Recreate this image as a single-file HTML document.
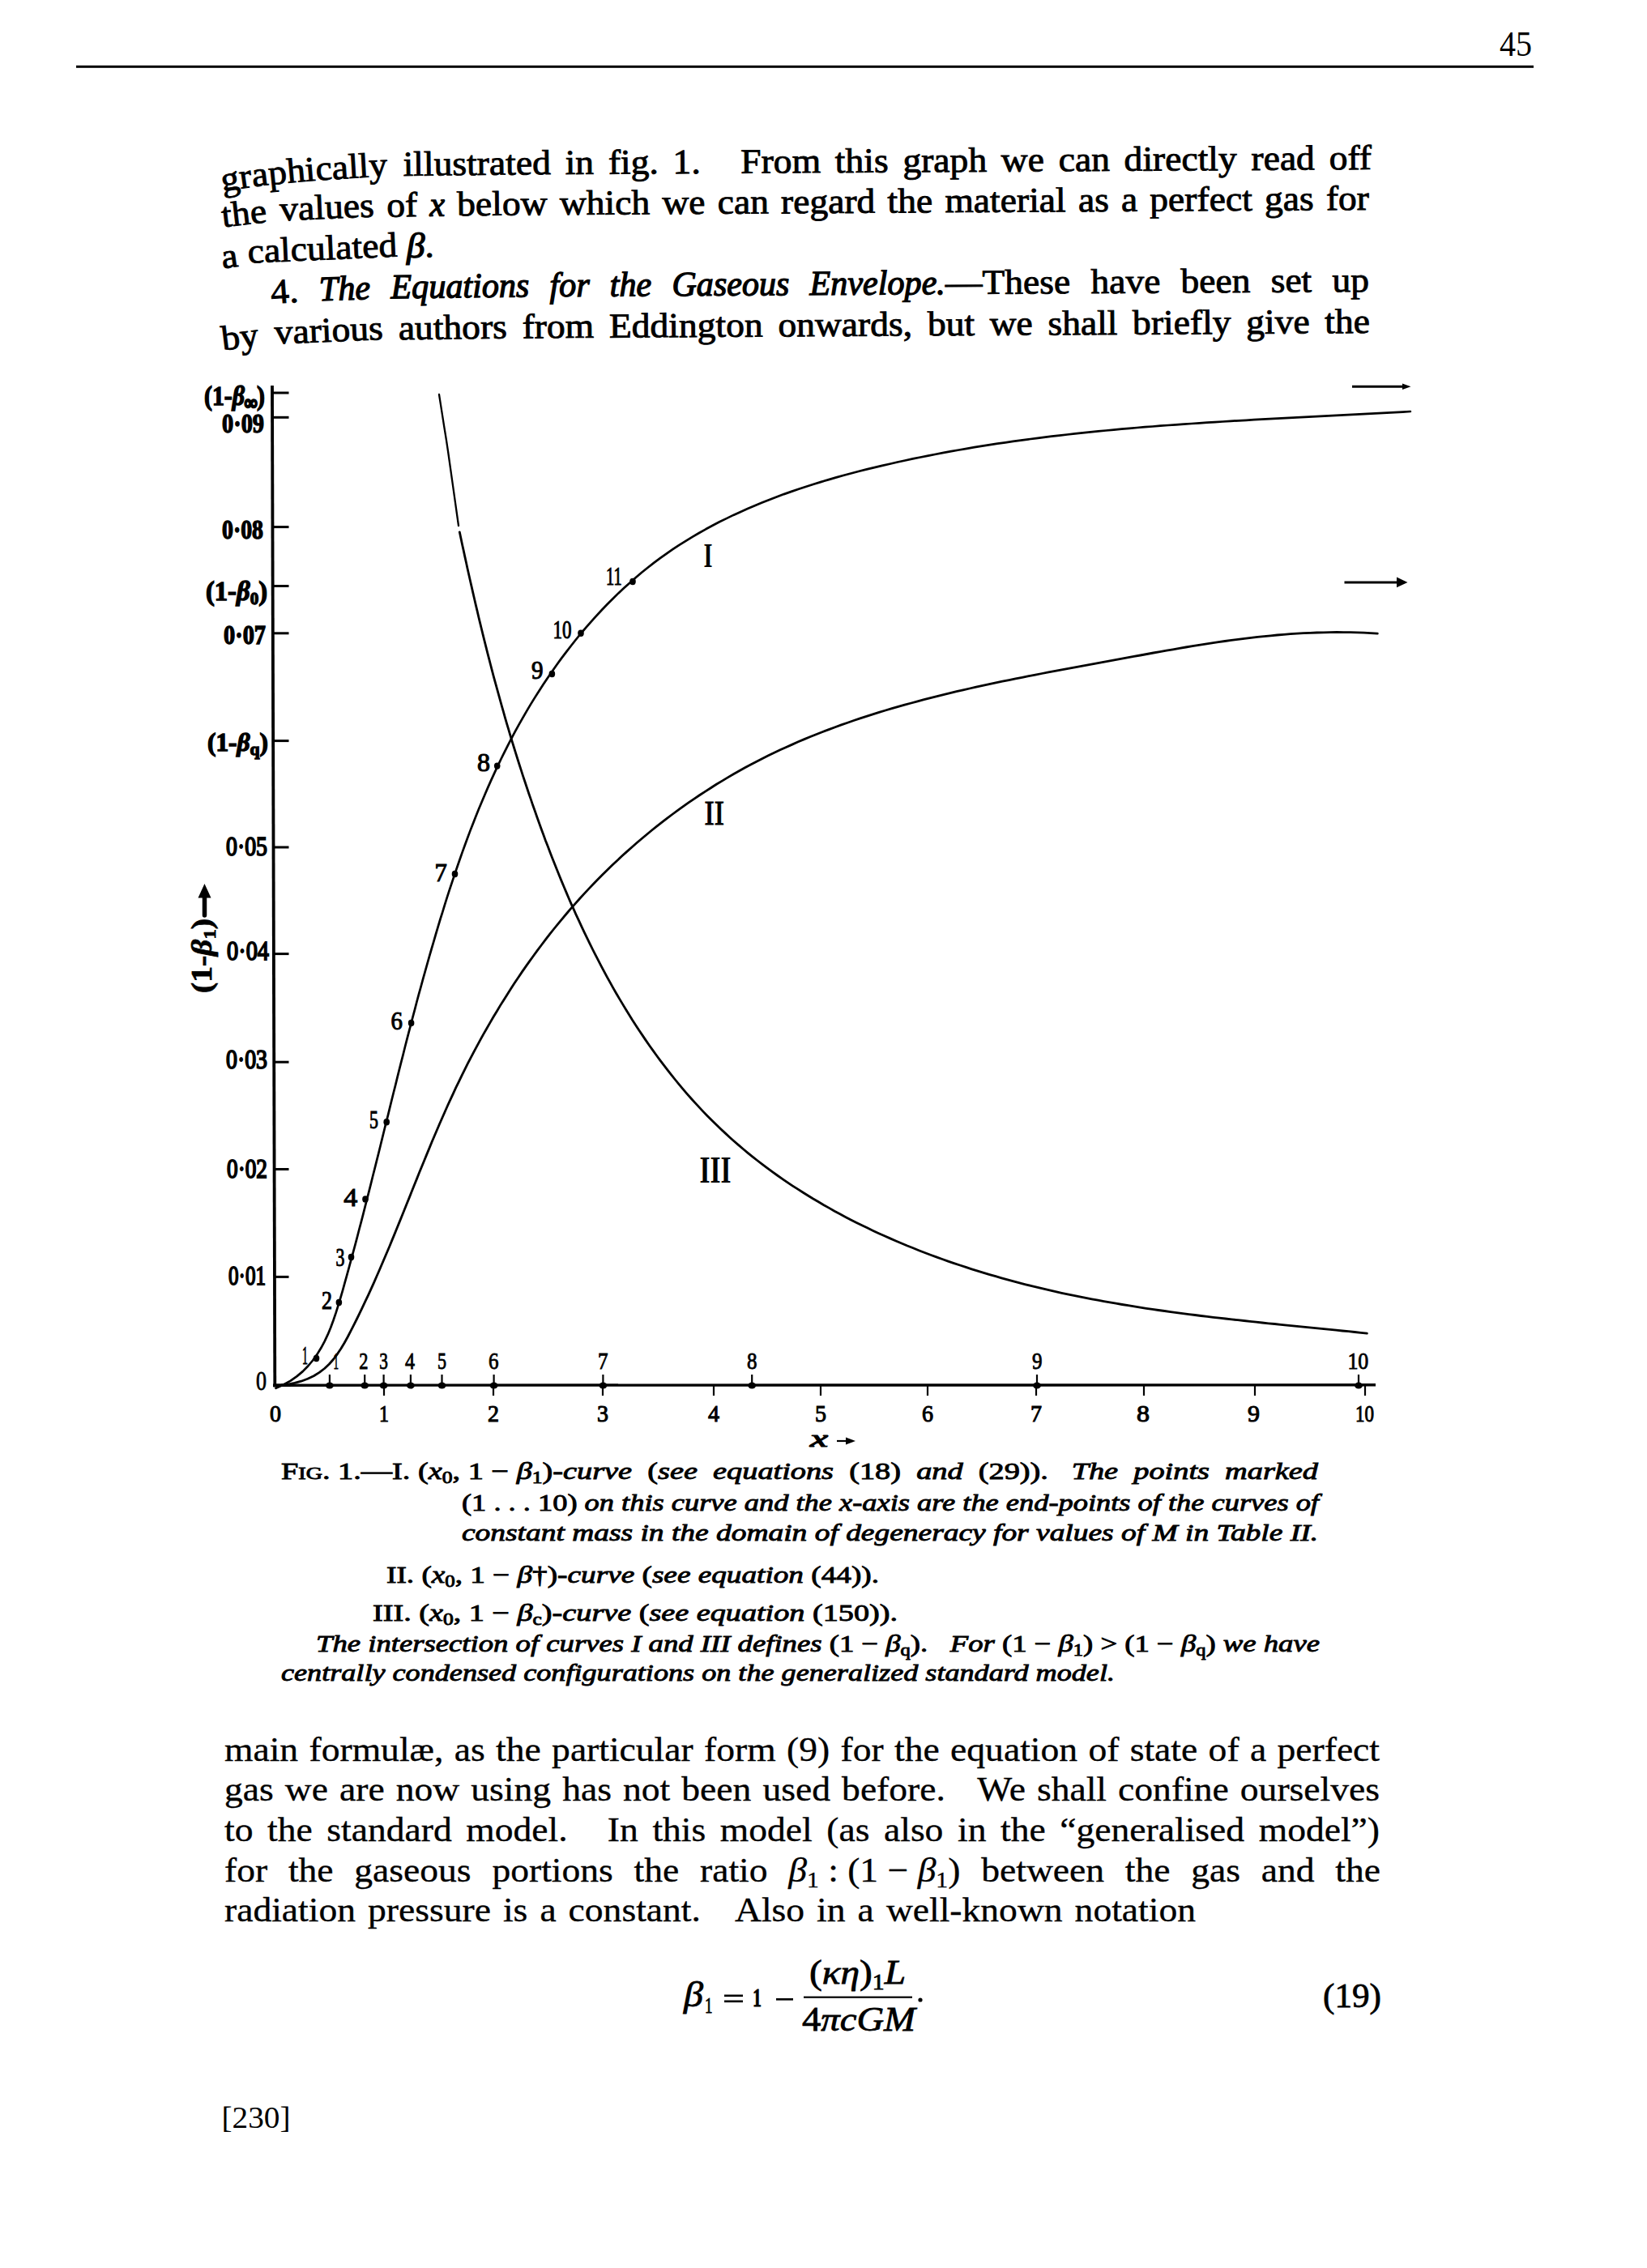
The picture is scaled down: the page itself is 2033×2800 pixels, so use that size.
<!DOCTYPE html>
<html><head><meta charset="utf-8"><title>Page 45</title>
<style>
html,body{margin:0;padding:0;background:#fff;}
body{width:2033px;height:2800px;overflow:hidden;}
svg{display:block;}
text{fill:#000;white-space:pre;}
.ut,.lt{font-family:'Liberation Serif', serif;font-size:43px;}
.ut{stroke:#000;stroke-width:0.9px;}
.ut tspan[font-style=italic]{stroke-width:1.3px;}
.lt{stroke:#000;stroke-width:0.35px;}
.eq{stroke:#000;stroke-width:0.8px;}
.cap{stroke:#000;stroke-width:0.5px;}
.cap{stroke-width:0.9px;}
</style></head><body>
<svg width="2033" height="2800" viewBox="0 0 2033 2800"><defs><path id="p_gr" d="M 275.0 236.5 Q 345.0 223 510.0 216"/></defs><text x="1851" y="69" font-family="'Liberation Serif', serif" font-size="44" textLength="40" lengthAdjust="spacingAndGlyphs">45</text><rect x="94" y="80.8" width="1799" height="3" fill="#000"/><text class="ut"><textPath href="#p_gr" textLength="205.0" lengthAdjust="spacingAndGlyphs">graphically</textPath></text><text class="ut" x="497.7" y="217.0" transform="rotate(-0.61 497.7 217.0)" textLength="182.3" lengthAdjust="spacingAndGlyphs">illustrated</text><text class="ut" x="697.7" y="215.1" transform="rotate(-0.41 697.7 215.1)" textLength="35.5" lengthAdjust="spacingAndGlyphs">in</text><text class="ut" x="750.9" y="214.7" transform="rotate(-0.37 750.9 214.7)" textLength="62.0" lengthAdjust="spacingAndGlyphs">fig.</text><text class="ut" x="830.6" y="214.2" transform="rotate(-0.36 830.6 214.2)" textLength="34.2" lengthAdjust="spacingAndGlyphs">1.</text><text class="ut" x="914.3" y="213.7" transform="rotate(-0.35 914.3 213.7)" textLength="98.8" lengthAdjust="spacingAndGlyphs">From</text><text class="ut" x="1030.8" y="213.0" transform="rotate(-0.35 1030.8 213.0)" textLength="65.9" lengthAdjust="spacingAndGlyphs">this</text><text class="ut" x="1114.4" y="212.5" transform="rotate(-0.34 1114.4 212.5)" textLength="103.8" lengthAdjust="spacingAndGlyphs">graph</text><text class="ut" x="1235.8" y="211.7" transform="rotate(-0.34 1235.8 211.7)" textLength="53.1" lengthAdjust="spacingAndGlyphs">we</text><text class="ut" x="1306.7" y="211.3" transform="rotate(-0.34 1306.7 211.3)" textLength="63.3" lengthAdjust="spacingAndGlyphs">can</text><text class="ut" x="1387.6" y="210.8" transform="rotate(-0.34 1387.6 210.8)" textLength="139.2" lengthAdjust="spacingAndGlyphs">directly</text><text class="ut" x="1544.5" y="209.9" transform="rotate(-0.34 1544.5 209.9)" textLength="78.4" lengthAdjust="spacingAndGlyphs">read</text><text class="ut" x="1640.7" y="209.3" transform="rotate(-0.34 1640.7 209.3)" textLength="52.3" lengthAdjust="spacingAndGlyphs">off</text><text class="ut" x="275.0" y="280.5" transform="rotate(-6.62 275.0 280.5)" textLength="55.7" lengthAdjust="spacingAndGlyphs">the</text><text class="ut" x="345.8" y="272.4" transform="rotate(-2.39 345.8 272.4)" textLength="116.5" lengthAdjust="spacingAndGlyphs">values</text><text class="ut" x="477.4" y="267.7" transform="rotate(-1.08 477.4 267.7)" textLength="38.0" lengthAdjust="spacingAndGlyphs">of</text><text class="ut" x="530.5" y="266.7" transform="rotate(-0.80 530.5 266.7)" textLength="18.7" lengthAdjust="spacingAndGlyphs"><tspan font-style='italic'>x</tspan></text><text class="ut" x="564.3" y="266.2" transform="rotate(-0.53 564.3 266.2)" textLength="111.4" lengthAdjust="spacingAndGlyphs">below</text><text class="ut" x="690.9" y="265.1" transform="rotate(-0.39 690.9 265.1)" textLength="111.4" lengthAdjust="spacingAndGlyphs">which</text><text class="ut" x="817.4" y="264.3" transform="rotate(-0.36 817.4 264.3)" textLength="53.1" lengthAdjust="spacingAndGlyphs">we</text><text class="ut" x="885.7" y="263.8" transform="rotate(-0.35 885.7 263.8)" textLength="63.3" lengthAdjust="spacingAndGlyphs">can</text><text class="ut" x="964.0" y="263.4" transform="rotate(-0.35 964.0 263.4)" textLength="116.4" lengthAdjust="spacingAndGlyphs">regard</text><text class="ut" x="1095.6" y="262.6" transform="rotate(-0.34 1095.6 262.6)" textLength="55.7" lengthAdjust="spacingAndGlyphs">the</text><text class="ut" x="1166.4" y="262.1" transform="rotate(-0.34 1166.4 262.1)" textLength="149.3" lengthAdjust="spacingAndGlyphs">material</text><text class="ut" x="1330.9" y="261.2" transform="rotate(-0.34 1330.9 261.2)" textLength="38.0" lengthAdjust="spacingAndGlyphs">as</text><text class="ut" x="1384.0" y="260.8" transform="rotate(-0.34 1384.0 260.8)" textLength="20.2" lengthAdjust="spacingAndGlyphs">a</text><text class="ut" x="1419.3" y="260.6" transform="rotate(-0.34 1419.3 260.6)" textLength="126.5" lengthAdjust="spacingAndGlyphs">perfect</text><text class="ut" x="1561.0" y="259.8" transform="rotate(-0.34 1561.0 259.8)" textLength="60.8" lengthAdjust="spacingAndGlyphs">gas</text><text class="ut" x="1636.9" y="259.3" transform="rotate(-0.34 1636.9 259.3)" textLength="53.1" lengthAdjust="spacingAndGlyphs">for</text><text class="ut" x="275.0" y="331.4" transform="rotate(-7.97 275.0 331.4)" textLength="20.2" lengthAdjust="spacingAndGlyphs">a</text><text class="ut" x="306.2" y="324.7" transform="rotate(-2.52 306.2 324.7)" textLength="184.7" lengthAdjust="spacingAndGlyphs">calculated</text><text class="ut" x="501.9" y="317.7" transform="rotate(-0.92 501.9 317.7)" textLength="34.1" lengthAdjust="spacingAndGlyphs"><tspan font-style='italic'>β</tspan>.</text><text class="ut" x="335.0" y="375.0" transform="rotate(-3.99 335.0 375.0)" textLength="34.2" lengthAdjust="spacingAndGlyphs">4.</text><text class="ut" x="394.3" y="371.2" transform="rotate(-1.95 394.3 371.2)" textLength="63.2" lengthAdjust="spacingAndGlyphs"><tspan font-style='italic'>The</tspan></text><text class="ut" x="482.6" y="368.3" transform="rotate(-0.68 482.6 368.3)" textLength="170.9" lengthAdjust="spacingAndGlyphs"><tspan font-style='italic'>Equations</tspan></text><text class="ut" x="678.6" y="366.2" transform="rotate(-0.42 678.6 366.2)" textLength="49.2" lengthAdjust="spacingAndGlyphs"><tspan font-style='italic'>for</tspan></text><text class="ut" x="752.8" y="365.7" transform="rotate(-0.38 752.8 365.7)" textLength="51.5" lengthAdjust="spacingAndGlyphs"><tspan font-style='italic'>the</tspan></text><text class="ut" x="829.4" y="365.2" transform="rotate(-0.35 829.4 365.2)" textLength="145.1" lengthAdjust="spacingAndGlyphs"><tspan font-style='italic'>Gaseous</tspan></text><text class="ut" x="999.6" y="364.1" transform="rotate(-0.34 999.6 364.1)" textLength="167.3" lengthAdjust="spacingAndGlyphs"><tspan font-style='italic'>Envelope.</tspan></text><text class="ut" x="1166.9" y="363.1" transform="rotate(-0.34 1166.9 363.1)" textLength="154.4" lengthAdjust="spacingAndGlyphs">—These</text><text class="ut" x="1346.4" y="362.1" transform="rotate(-0.34 1346.4 362.1)" textLength="86.0" lengthAdjust="spacingAndGlyphs">have</text><text class="ut" x="1457.6" y="361.4" transform="rotate(-0.34 1457.6 361.4)" textLength="86.0" lengthAdjust="spacingAndGlyphs">been</text><text class="ut" x="1568.7" y="360.7" transform="rotate(-0.34 1568.7 360.7)" textLength="50.6" lengthAdjust="spacingAndGlyphs">set</text><text class="ut" x="1644.4" y="360.3" transform="rotate(-0.34 1644.4 360.3)" textLength="45.6" lengthAdjust="spacingAndGlyphs">up</text><text class="ut" x="275.0" y="432.6" transform="rotate(-6.98 275.0 432.6)" textLength="45.6" lengthAdjust="spacingAndGlyphs">by</text><text class="ut" x="339.2" y="424.6" transform="rotate(-2.34 339.2 424.6)" textLength="134.2" lengthAdjust="spacingAndGlyphs">various</text><text class="ut" x="491.9" y="419.2" transform="rotate(-0.71 491.9 419.2)" textLength="134.2" lengthAdjust="spacingAndGlyphs">authors</text><text class="ut" x="644.7" y="417.5" transform="rotate(-0.43 644.7 417.5)" textLength="88.6" lengthAdjust="spacingAndGlyphs">from</text><text class="ut" x="751.9" y="416.7" transform="rotate(-0.36 751.9 416.7)" textLength="189.9" lengthAdjust="spacingAndGlyphs">Eddington</text><text class="ut" x="960.4" y="415.4" transform="rotate(-0.35 960.4 415.4)" textLength="165.8" lengthAdjust="spacingAndGlyphs">onwards,</text><text class="ut" x="1144.9" y="414.3" transform="rotate(-0.34 1144.9 414.3)" textLength="58.3" lengthAdjust="spacingAndGlyphs">but</text><text class="ut" x="1221.7" y="413.8" transform="rotate(-0.34 1221.7 413.8)" textLength="53.1" lengthAdjust="spacingAndGlyphs">we</text><text class="ut" x="1293.4" y="413.4" transform="rotate(-0.34 1293.4 413.4)" textLength="86.1" lengthAdjust="spacingAndGlyphs">shall</text><text class="ut" x="1398.1" y="412.8" transform="rotate(-0.34 1398.1 412.8)" textLength="121.5" lengthAdjust="spacingAndGlyphs">briefly</text><text class="ut" x="1538.2" y="411.9" transform="rotate(-0.34 1538.2 411.9)" textLength="78.5" lengthAdjust="spacingAndGlyphs">give</text><text class="ut" x="1635.3" y="411.3" transform="rotate(-0.34 1635.3 411.3)" textLength="55.7" lengthAdjust="spacingAndGlyphs">the</text><text class="lt" x="277.0" y="2173.5" textLength="91.1" lengthAdjust="spacingAndGlyphs">main</text><text class="lt" x="381.5" y="2173.5" textLength="165.9" lengthAdjust="spacingAndGlyphs">formulæ,</text><text class="lt" x="560.7" y="2173.5" textLength="38.0" lengthAdjust="spacingAndGlyphs">as</text><text class="lt" x="612.0" y="2173.5" textLength="55.7" lengthAdjust="spacingAndGlyphs">the</text><text class="lt" x="681.1" y="2173.5" textLength="174.6" lengthAdjust="spacingAndGlyphs">particular</text><text class="lt" x="869.1" y="2173.5" textLength="88.6" lengthAdjust="spacingAndGlyphs">form</text><text class="lt" x="971.0" y="2173.5" textLength="53.1" lengthAdjust="spacingAndGlyphs">(9)</text><text class="lt" x="1037.5" y="2173.5" textLength="53.1" lengthAdjust="spacingAndGlyphs">for</text><text class="lt" x="1104.0" y="2173.5" textLength="55.7" lengthAdjust="spacingAndGlyphs">the</text><text class="lt" x="1173.1" y="2173.5" textLength="157.0" lengthAdjust="spacingAndGlyphs">equation</text><text class="lt" x="1343.4" y="2173.5" textLength="38.0" lengthAdjust="spacingAndGlyphs">of</text><text class="lt" x="1394.7" y="2173.5" textLength="83.5" lengthAdjust="spacingAndGlyphs">state</text><text class="lt" x="1491.6" y="2173.5" textLength="38.0" lengthAdjust="spacingAndGlyphs">of</text><text class="lt" x="1542.9" y="2173.5" textLength="20.2" lengthAdjust="spacingAndGlyphs">a</text><text class="lt" x="1576.5" y="2173.5" textLength="126.5" lengthAdjust="spacingAndGlyphs">perfect</text><text class="lt" x="277.0" y="2223" textLength="60.8" lengthAdjust="spacingAndGlyphs">gas</text><text class="lt" x="351.8" y="2223" textLength="53.1" lengthAdjust="spacingAndGlyphs">we</text><text class="lt" x="419.1" y="2223" textLength="55.7" lengthAdjust="spacingAndGlyphs">are</text><text class="lt" x="488.8" y="2223" textLength="78.5" lengthAdjust="spacingAndGlyphs">now</text><text class="lt" x="581.3" y="2223" textLength="98.8" lengthAdjust="spacingAndGlyphs">using</text><text class="lt" x="694.2" y="2223" textLength="60.8" lengthAdjust="spacingAndGlyphs">has</text><text class="lt" x="769.0" y="2223" textLength="58.3" lengthAdjust="spacingAndGlyphs">not</text><text class="lt" x="841.3" y="2223" textLength="86.0" lengthAdjust="spacingAndGlyphs">been</text><text class="lt" x="941.5" y="2223" textLength="83.6" lengthAdjust="spacingAndGlyphs">used</text><text class="lt" x="1039.1" y="2223" textLength="127.8" lengthAdjust="spacingAndGlyphs">before.</text><text class="lt" x="1206.3" y="2223" textLength="59.6" lengthAdjust="spacingAndGlyphs">We</text><text class="lt" x="1279.9" y="2223" textLength="86.1" lengthAdjust="spacingAndGlyphs">shall</text><text class="lt" x="1380.1" y="2223" textLength="136.7" lengthAdjust="spacingAndGlyphs">confine</text><text class="lt" x="1530.8" y="2223" textLength="172.2" lengthAdjust="spacingAndGlyphs">ourselves</text><text class="lt" x="277.0" y="2272.5" textLength="35.5" lengthAdjust="spacingAndGlyphs">to</text><text class="lt" x="330.0" y="2272.5" textLength="55.7" lengthAdjust="spacingAndGlyphs">the</text><text class="lt" x="403.3" y="2272.5" textLength="154.4" lengthAdjust="spacingAndGlyphs">standard</text><text class="lt" x="575.3" y="2272.5" textLength="125.3" lengthAdjust="spacingAndGlyphs">model.</text><text class="lt" x="749.8" y="2272.5" textLength="38.0" lengthAdjust="spacingAndGlyphs">In</text><text class="lt" x="805.4" y="2272.5" textLength="65.9" lengthAdjust="spacingAndGlyphs">this</text><text class="lt" x="888.8" y="2272.5" textLength="113.9" lengthAdjust="spacingAndGlyphs">model</text><text class="lt" x="1020.3" y="2272.5" textLength="53.1" lengthAdjust="spacingAndGlyphs">(as</text><text class="lt" x="1091.0" y="2272.5" textLength="73.4" lengthAdjust="spacingAndGlyphs">also</text><text class="lt" x="1182.0" y="2272.5" textLength="35.5" lengthAdjust="spacingAndGlyphs">in</text><text class="lt" x="1235.0" y="2272.5" textLength="55.7" lengthAdjust="spacingAndGlyphs">the</text><text class="lt" x="1308.3" y="2272.5" textLength="227.8" lengthAdjust="spacingAndGlyphs">“generalised</text><text class="lt" x="1553.7" y="2272.5" textLength="149.3" lengthAdjust="spacingAndGlyphs">model”)</text><text class="lt" x="277.0" y="2322.5" textLength="53.1" lengthAdjust="spacingAndGlyphs">for</text><text class="lt" x="355.9" y="2322.5" textLength="55.7" lengthAdjust="spacingAndGlyphs">the</text><text class="lt" x="437.3" y="2322.5" textLength="144.3" lengthAdjust="spacingAndGlyphs">gaseous</text><text class="lt" x="607.4" y="2322.5" textLength="149.4" lengthAdjust="spacingAndGlyphs">portions</text><text class="lt" x="782.5" y="2322.5" textLength="55.7" lengthAdjust="spacingAndGlyphs">the</text><text class="lt" x="864.0" y="2322.5" textLength="83.5" lengthAdjust="spacingAndGlyphs">ratio</text><text class="lt" x="973.2" y="2322.5" textLength="212.2" lengthAdjust="spacingAndGlyphs"><tspan font-style='italic'>β</tspan><tspan font-size='28' baseline-shift='-7'>1</tspan> : (1 − <tspan font-style='italic'>β</tspan><tspan font-size='28' baseline-shift='-7'>1</tspan>)</text><text class="lt" x="1211.2" y="2322.5" textLength="151.9" lengthAdjust="spacingAndGlyphs">between</text><text class="lt" x="1388.8" y="2322.5" textLength="55.7" lengthAdjust="spacingAndGlyphs">the</text><text class="lt" x="1470.2" y="2322.5" textLength="60.8" lengthAdjust="spacingAndGlyphs">gas</text><text class="lt" x="1556.7" y="2322.5" textLength="65.8" lengthAdjust="spacingAndGlyphs">and</text><text class="lt" x="1648.3" y="2322.5" textLength="55.7" lengthAdjust="spacingAndGlyphs">the</text><text class="lt" x="277.0" y="2372" textLength="162.0" lengthAdjust="spacingAndGlyphs">radiation</text><text class="lt" x="454.0" y="2372" textLength="151.9" lengthAdjust="spacingAndGlyphs">pressure</text><text class="lt" x="620.9" y="2372" textLength="30.4" lengthAdjust="spacingAndGlyphs">is</text><text class="lt" x="666.4" y="2372" textLength="20.2" lengthAdjust="spacingAndGlyphs">a</text><text class="lt" x="701.6" y="2372" textLength="163.3" lengthAdjust="spacingAndGlyphs">constant.</text><text class="lt" x="907.0" y="2372" textLength="86.1" lengthAdjust="spacingAndGlyphs">Also</text><text class="lt" x="1008.1" y="2372" textLength="35.5" lengthAdjust="spacingAndGlyphs">in</text><text class="lt" x="1058.6" y="2372" textLength="20.2" lengthAdjust="spacingAndGlyphs">a</text><text class="lt" x="1093.9" y="2372" textLength="217.7" lengthAdjust="spacingAndGlyphs">well-known</text><text class="lt" x="1326.6" y="2372" textLength="149.4" lengthAdjust="spacingAndGlyphs">notation</text><path d="M 336 476 L 339.3 1712.5" stroke="#000" stroke-width="3.8" fill="none"/><path d="M 337 1710.2 L 1698 1709.8" stroke="#000" stroke-width="3.4" fill="none"/><path d="M 336.0 485 L 356.5 485" stroke="#000" stroke-width="3" fill="none"/><path d="M 336.1 515.3 L 356.5 515.3" stroke="#000" stroke-width="3" fill="none"/><path d="M 336.5 650.6 L 356.5 650.6" stroke="#000" stroke-width="3" fill="none"/><path d="M 336.7 723.5 L 356.5 723.5" stroke="#000" stroke-width="3" fill="none"/><path d="M 336.8 781.8 L 356.5 781.8" stroke="#000" stroke-width="3" fill="none"/><path d="M 337.2 914.6 L 356.5 914.6" stroke="#000" stroke-width="3" fill="none"/><path d="M 337.5 1046 L 356.5 1046" stroke="#000" stroke-width="3" fill="none"/><path d="M 337.9 1177.6 L 356.5 1177.6" stroke="#000" stroke-width="3" fill="none"/><path d="M 338.2 1311.2 L 356.5 1311.2" stroke="#000" stroke-width="3" fill="none"/><path d="M 338.6 1443.5 L 356.5 1443.5" stroke="#000" stroke-width="3" fill="none"/><path d="M 338.9 1576.4 L 356.5 1576.4" stroke="#000" stroke-width="3" fill="none"/><text x="252" y="500" font-family="'Liberation Serif', serif" font-size="34" font-weight="bold" stroke="#000" stroke-width="1.4" textLength="75" lengthAdjust="spacingAndGlyphs">(1-<tspan font-style='italic'>β</tspan><tspan font-size='24' baseline-shift='-5' stroke-width='3'>∞</tspan>)</text><text x="274" y="534" font-family="'Liberation Serif', serif" font-size="34" font-weight="bold" stroke="#000" stroke-width="1.4" textLength="52" lengthAdjust="spacingAndGlyphs">0·09</text><text x="274" y="665" font-family="'Liberation Serif', serif" font-size="34" font-weight="bold" stroke="#000" stroke-width="1.4" textLength="51" lengthAdjust="spacingAndGlyphs">0·08</text><text x="254" y="741" font-family="'Liberation Serif', serif" font-size="34" font-weight="bold" stroke="#000" stroke-width="1.4" textLength="76" lengthAdjust="spacingAndGlyphs">(1-<tspan font-style='italic'>β</tspan><tspan font-size='22' baseline-shift='-5'>0</tspan>)</text><text x="276" y="795" font-family="'Liberation Serif', serif" font-size="34" font-weight="bold" stroke="#000" stroke-width="1.4" textLength="52" lengthAdjust="spacingAndGlyphs">0·07</text><text x="256" y="927" font-family="'Liberation Serif', serif" font-size="32" font-weight="bold" stroke="#000" stroke-width="1.4" textLength="75" lengthAdjust="spacingAndGlyphs">(1-<tspan font-style='italic'>β</tspan><tspan font-size='22' baseline-shift='-5'>q</tspan>)</text><text x="279" y="1056" font-family="'Liberation Serif', serif" font-size="33" font-weight="normal" stroke="#000" stroke-width="1.8" textLength="51" lengthAdjust="spacingAndGlyphs">0·05</text><text x="280" y="1185" font-family="'Liberation Serif', serif" font-size="33" font-weight="normal" stroke="#000" stroke-width="1.8" textLength="52" lengthAdjust="spacingAndGlyphs">0·04</text><text x="279" y="1319" font-family="'Liberation Serif', serif" font-size="33" font-weight="normal" stroke="#000" stroke-width="1.8" textLength="51" lengthAdjust="spacingAndGlyphs">0·03</text><text x="280" y="1453.5" font-family="'Liberation Serif', serif" font-size="33" font-weight="normal" stroke="#000" stroke-width="1.8" textLength="50" lengthAdjust="spacingAndGlyphs">0·02</text><text x="282" y="1586" font-family="'Liberation Serif', serif" font-size="33" font-weight="normal" stroke="#000" stroke-width="1.8" textLength="46" lengthAdjust="spacingAndGlyphs">0·01</text><text x="316" y="1716" font-family="'Liberation Serif', serif" font-size="33" font-weight="normal" stroke="#000" stroke-width="0.8" textLength="13" lengthAdjust="spacingAndGlyphs">0</text><text transform="translate(261,1226) rotate(-90)" font-family="'Liberation Serif', serif" font-size="35" font-weight="bold" stroke="#000" stroke-width="0.8" textLength="92" lengthAdjust="spacingAndGlyphs">(1-<tspan font-style="italic">β</tspan><tspan font-size="22" baseline-shift="-5">1</tspan>)</text><path d="M 252.5 1130 L 252.5 1104" stroke="#000" stroke-width="5.5" stroke-linecap="round"/><path d="M 244.5 1108.5 L 252.5 1091 L 260.5 1108.5 Z" fill="#000"/><path d="M 474 1710 L 474 1723" stroke="#000" stroke-width="2.2" fill="none"/><path d="M 609 1710 L 609 1723" stroke="#000" stroke-width="2.2" fill="none"/><path d="M 744 1710 L 744 1723" stroke="#000" stroke-width="2.2" fill="none"/><path d="M 881 1710 L 881 1723" stroke="#000" stroke-width="2.2" fill="none"/><path d="M 1013 1710 L 1013 1723" stroke="#000" stroke-width="2.2" fill="none"/><path d="M 1145 1710 L 1145 1723" stroke="#000" stroke-width="2.2" fill="none"/><path d="M 1279 1710 L 1279 1723" stroke="#000" stroke-width="2.2" fill="none"/><path d="M 1412 1710 L 1412 1723" stroke="#000" stroke-width="2.2" fill="none"/><path d="M 1549 1710 L 1549 1723" stroke="#000" stroke-width="2.2" fill="none"/><path d="M 1685 1710 L 1685 1723" stroke="#000" stroke-width="2.2" fill="none"/><text x="333" y="1755" font-family="'Liberation Serif', serif" font-size="30" stroke="#000" stroke-width="1.1" textLength="14" lengthAdjust="spacingAndGlyphs">0</text><text x="468" y="1755" font-family="'Liberation Serif', serif" font-size="30" stroke="#000" stroke-width="1.1" textLength="12" lengthAdjust="spacingAndGlyphs">1</text><text x="602" y="1755" font-family="'Liberation Serif', serif" font-size="30" stroke="#000" stroke-width="1.1" textLength="14" lengthAdjust="spacingAndGlyphs">2</text><text x="737" y="1755" font-family="'Liberation Serif', serif" font-size="30" stroke="#000" stroke-width="1.1" textLength="14" lengthAdjust="spacingAndGlyphs">3</text><text x="874" y="1755" font-family="'Liberation Serif', serif" font-size="30" stroke="#000" stroke-width="1.1" textLength="14" lengthAdjust="spacingAndGlyphs">4</text><text x="1006" y="1755" font-family="'Liberation Serif', serif" font-size="30" stroke="#000" stroke-width="1.1" textLength="14" lengthAdjust="spacingAndGlyphs">5</text><text x="1138" y="1755" font-family="'Liberation Serif', serif" font-size="30" stroke="#000" stroke-width="1.1" textLength="14" lengthAdjust="spacingAndGlyphs">6</text><text x="1272" y="1755" font-family="'Liberation Serif', serif" font-size="30" stroke="#000" stroke-width="1.1" textLength="14" lengthAdjust="spacingAndGlyphs">7</text><text x="1403" y="1755" font-family="'Liberation Serif', serif" font-size="30" stroke="#000" stroke-width="1.1" textLength="16" lengthAdjust="spacingAndGlyphs">8</text><text x="1540" y="1755" font-family="'Liberation Serif', serif" font-size="30" stroke="#000" stroke-width="1.1" textLength="15" lengthAdjust="spacingAndGlyphs">9</text><text x="1673" y="1755" font-family="'Liberation Serif', serif" font-size="30" stroke="#000" stroke-width="1.1" textLength="23" lengthAdjust="spacingAndGlyphs">10</text><path d="M 406.9 1697 L 406.9 1710" stroke="#000" stroke-width="2.2" fill="none"/><ellipse cx="406.9" cy="1710.5" rx="5" ry="4" fill="#000"/><path d="M 450.2 1697 L 450.2 1710" stroke="#000" stroke-width="2.2" fill="none"/><ellipse cx="450.2" cy="1710.5" rx="5" ry="4" fill="#000"/><path d="M 473.6 1697 L 473.6 1710" stroke="#000" stroke-width="2.2" fill="none"/><ellipse cx="473.6" cy="1710.5" rx="5" ry="4" fill="#000"/><path d="M 506.9 1697 L 506.9 1710" stroke="#000" stroke-width="2.2" fill="none"/><ellipse cx="506.9" cy="1710.5" rx="5" ry="4" fill="#000"/><path d="M 545.5 1697 L 545.5 1710" stroke="#000" stroke-width="2.2" fill="none"/><ellipse cx="545.5" cy="1710.5" rx="5" ry="4" fill="#000"/><path d="M 609.6 1697 L 609.6 1710" stroke="#000" stroke-width="2.2" fill="none"/><ellipse cx="609.6" cy="1710.5" rx="5" ry="4" fill="#000"/><path d="M 744.4 1697 L 744.4 1710" stroke="#000" stroke-width="2.2" fill="none"/><ellipse cx="744.4" cy="1710.5" rx="5" ry="4" fill="#000"/><path d="M 928.2 1697 L 928.2 1710" stroke="#000" stroke-width="2.2" fill="none"/><ellipse cx="928.2" cy="1710.5" rx="5" ry="4" fill="#000"/><path d="M 1280 1697 L 1280 1710" stroke="#000" stroke-width="2.2" fill="none"/><ellipse cx="1280" cy="1710.5" rx="5" ry="4" fill="#000"/><path d="M 1677 1697 L 1677 1710" stroke="#000" stroke-width="2.2" fill="none"/><ellipse cx="1677" cy="1710.5" rx="5" ry="4" fill="#000"/><text x="411.5" y="1690" font-family="'Liberation Serif', serif" font-size="29" stroke="#000" stroke-width="0.9" textLength="6.5" lengthAdjust="spacingAndGlyphs">1</text><text x="443.3" y="1690" font-family="'Liberation Serif', serif" font-size="29" stroke="#000" stroke-width="0.9" textLength="11.199999999999989" lengthAdjust="spacingAndGlyphs">2</text><text x="468.2" y="1690" font-family="'Liberation Serif', serif" font-size="29" stroke="#000" stroke-width="0.9" textLength="10.600000000000023" lengthAdjust="spacingAndGlyphs">3</text><text x="500" y="1690" font-family="'Liberation Serif', serif" font-size="29" stroke="#000" stroke-width="0.9" textLength="12" lengthAdjust="spacingAndGlyphs">4</text><text x="540" y="1690" font-family="'Liberation Serif', serif" font-size="29" stroke="#000" stroke-width="0.9" textLength="11" lengthAdjust="spacingAndGlyphs">5</text><text x="603" y="1690" font-family="'Liberation Serif', serif" font-size="29" stroke="#000" stroke-width="0.9" textLength="12.5" lengthAdjust="spacingAndGlyphs">6</text><text x="738" y="1690" font-family="'Liberation Serif', serif" font-size="29" stroke="#000" stroke-width="0.9" textLength="12.5" lengthAdjust="spacingAndGlyphs">7</text><text x="922" y="1690" font-family="'Liberation Serif', serif" font-size="29" stroke="#000" stroke-width="0.9" textLength="12.5" lengthAdjust="spacingAndGlyphs">8</text><text x="1274" y="1690" font-family="'Liberation Serif', serif" font-size="29" stroke="#000" stroke-width="0.9" textLength="12.5" lengthAdjust="spacingAndGlyphs">9</text><text x="1663.4" y="1690" font-family="'Liberation Serif', serif" font-size="29" stroke="#000" stroke-width="0.9" textLength="25.899999999999864" lengthAdjust="spacingAndGlyphs">10</text><text x="1000" y="1786" font-family="'Liberation Serif', serif" font-size="30" font-style="italic" stroke="#000" stroke-width="1.2" textLength="22" lengthAdjust="spacingAndGlyphs">x</text><path d="M 1033 1779 L 1050 1779" stroke="#000" stroke-width="2.2"/><path d="M 1044 1774.5 L 1056 1779 L 1044 1783.5 Z" fill="#000"/><path d="M 340.5 1713.8 L 350.0 1709.5 L 358.7 1704.6 L 366.5 1699.1 L 373.7 1693.1 L 380.2 1686.5 L 386.1 1679.5 L 391.4 1672.1 L 396.2 1664.3 L 400.6 1656.1 L 404.6 1647.7 L 408.2 1639.0 L 411.5 1630.0 L 414.6 1620.9 L 417.5 1611.7 L 420.3 1602.4 L 423.0 1593.1 L 425.6 1583.7 L 428.2 1574.3 L 430.8 1564.9 L 433.3 1555.6 L 435.9 1546.2 L 438.4 1536.8 L 440.9 1527.4 L 443.3 1518.0 L 445.8 1508.7 L 448.2 1499.3 L 450.6 1489.9 L 453.0 1480.5 L 455.4 1471.1 L 457.8 1461.7 L 460.1 1452.3 L 462.5 1442.9 L 464.8 1433.6 L 467.2 1424.2 L 469.5 1414.8 L 471.8 1405.4 L 474.1 1396.0 L 476.4 1386.6 L 478.8 1377.3 L 481.1 1367.9 L 483.4 1358.5 L 485.7 1349.2 L 488.1 1339.8 L 490.4 1330.4 L 492.7 1321.1 L 495.1 1311.7 L 497.5 1302.4 L 499.8 1293.0 L 502.2 1283.7 L 504.6 1274.3 L 507.1 1265.0 L 509.5 1255.7 L 512.0 1246.4 L 514.4 1237.0 L 516.9 1227.7 L 519.5 1218.4 L 522.0 1209.1 L 524.6 1199.8 L 527.2 1190.6 L 529.8 1181.3 L 532.5 1172.0 L 535.2 1162.8 L 537.9 1153.5 L 540.6 1144.3 L 543.4 1135.0 L 546.3 1125.8 L 549.1 1116.6 L 552.0 1107.4 L 555.0 1098.2 L 558.0 1089.1 L 561.1 1079.9 L 564.2 1070.8 L 567.3 1061.7 L 570.5 1052.6 L 573.8 1043.5 L 577.1 1034.5 L 580.5 1025.4 L 584.0 1016.4 L 587.5 1007.5 L 591.1 998.6 L 594.8 989.7 L 598.6 980.8 L 602.4 971.9 L 606.3 963.1 L 610.3 954.4 L 614.4 945.7 L 618.5 937.0 L 622.8 928.3 L 627.2 919.7 L 631.6 911.2 L 636.1 902.7 L 640.8 894.2 L 645.5 885.8 L 650.4 877.4 L 655.3 869.1 L 660.4 860.9 L 665.6 852.7 L 670.9 844.5 L 676.3 836.5 L 681.8 828.4 L 687.4 820.5 L 693.1 812.6 L 699.0 804.9 L 704.9 797.2 L 711.0 789.5 L 717.1 782.0 L 723.4 774.6 L 729.8 767.3 L 736.3 760.1 L 742.9 753.0 L 749.6 746.0 L 756.4 739.2 L 763.3 732.4 L 770.4 725.8 L 777.5 719.4 L 784.8 713.0 L 792.1 706.8 L 799.6 700.8 L 807.1 694.9 L 814.8 689.2 L 822.6 683.6 L 830.4 678.2 L 838.4 672.9 L 846.5 667.8 L 854.6 662.8 L 862.9 658.0 L 871.2 653.3 L 879.6 648.8 L 888.1 644.3 L 896.7 640.1 L 905.3 635.9 L 914.1 631.9 L 922.8 628.0 L 931.7 624.2 L 940.6 620.5 L 949.6 616.9 L 958.6 613.5 L 967.6 610.1 L 976.8 606.9 L 985.9 603.8 L 995.1 600.7 L 1004.4 597.8 L 1013.7 594.9 L 1023.0 592.1 L 1032.3 589.4 L 1041.7 586.8 L 1051.1 584.3 L 1060.5 581.8 L 1069.9 579.4 L 1079.4 577.1 L 1088.8 574.9 L 1098.3 572.7 L 1107.8 570.5 L 1117.2 568.5 L 1126.7 566.4 L 1136.2 564.5 L 1145.7 562.6 L 1155.2 560.7 L 1164.7 558.9 L 1174.2 557.2 L 1183.7 555.5 L 1193.2 553.8 L 1202.8 552.2 L 1212.3 550.7 L 1221.8 549.2 L 1231.3 547.7 L 1240.9 546.3 L 1250.4 544.9 L 1260.0 543.6 L 1269.5 542.3 L 1279.1 541.1 L 1288.6 539.9 L 1298.2 538.7 L 1307.7 537.6 L 1317.3 536.5 L 1326.9 535.4 L 1336.4 534.4 L 1346.0 533.4 L 1355.6 532.4 L 1365.2 531.5 L 1374.8 530.6 L 1384.4 529.7 L 1394.0 528.9 L 1403.6 528.0 L 1413.2 527.2 L 1422.8 526.5 L 1432.4 525.7 L 1442.0 525.0 L 1451.6 524.3 L 1461.2 523.6 L 1470.8 523.0 L 1480.5 522.3 L 1490.1 521.7 L 1499.7 521.1 L 1509.3 520.5 L 1519.0 519.9 L 1528.6 519.3 L 1538.2 518.8 L 1547.9 518.2 L 1557.5 517.7 L 1567.1 517.2 L 1576.8 516.7 L 1586.4 516.1 L 1596.1 515.6 L 1605.7 515.1 L 1615.4 514.6 L 1625.0 514.1 L 1634.7 513.6 L 1644.3 513.1 L 1654.0 512.7 L 1663.6 512.2 L 1673.3 511.7 L 1683.0 511.2 L 1692.6 510.7 L 1702.3 510.1 L 1711.9 509.6 L 1721.6 509.1 L 1731.3 508.6 L 1740.9 508.0" stroke="#000" stroke-width="2.7" fill="none" stroke-linecap="round" stroke-linejoin="round"/><path d="M 338.6 1709.8 L 347.0 1709.7 L 355.4 1709.0 L 363.7 1707.4 L 371.8 1705.2 L 379.7 1702.3 L 387.2 1698.7 L 394.2 1694.4 L 400.6 1689.5 L 406.4 1684.0 L 411.7 1678.0 L 416.5 1671.6 L 421.0 1664.8 L 425.2 1657.7 L 429.2 1650.5 L 433.0 1643.2 L 436.7 1635.8 L 440.4 1628.5 L 444.0 1621.1 L 447.6 1613.7 L 451.1 1606.2 L 454.6 1598.8 L 458.0 1591.3 L 461.4 1583.8 L 464.7 1576.3 L 468.0 1568.8 L 471.2 1561.3 L 474.4 1553.8 L 477.6 1546.2 L 480.8 1538.7 L 483.9 1531.1 L 487.0 1523.6 L 490.1 1516.0 L 493.2 1508.4 L 496.2 1500.9 L 499.3 1493.3 L 502.3 1485.7 L 505.4 1478.1 L 508.4 1470.5 L 511.4 1463.0 L 514.5 1455.4 L 517.5 1447.8 L 520.6 1440.2 L 523.7 1432.7 L 526.8 1425.1 L 529.9 1417.6 L 533.0 1410.0 L 536.2 1402.5 L 539.4 1395.0 L 542.6 1387.5 L 545.9 1380.0 L 549.2 1372.5 L 552.5 1365.0 L 555.9 1357.6 L 559.4 1350.1 L 562.8 1342.7 L 566.4 1335.3 L 570.0 1327.9 L 573.6 1320.6 L 577.3 1313.2 L 581.1 1305.9 L 584.9 1298.6 L 588.8 1291.4 L 592.7 1284.1 L 596.7 1276.9 L 600.8 1269.8 L 604.9 1262.6 L 609.0 1255.5 L 613.3 1248.4 L 617.5 1241.4 L 621.9 1234.4 L 626.3 1227.4 L 630.7 1220.5 L 635.2 1213.6 L 639.8 1206.7 L 644.4 1199.9 L 649.1 1193.1 L 653.9 1186.4 L 658.7 1179.7 L 663.5 1173.1 L 668.5 1166.5 L 673.5 1159.9 L 678.5 1153.4 L 683.6 1147.0 L 688.8 1140.6 L 694.0 1134.3 L 699.3 1128.0 L 704.7 1121.7 L 710.1 1115.6 L 715.5 1109.5 L 721.1 1103.4 L 726.7 1097.4 L 732.3 1091.5 L 738.1 1085.6 L 743.8 1079.8 L 749.7 1074.0 L 755.5 1068.3 L 761.5 1062.7 L 767.5 1057.1 L 773.5 1051.6 L 779.6 1046.2 L 785.8 1040.8 L 792.0 1035.5 L 798.3 1030.2 L 804.6 1025.0 L 811.0 1019.9 L 817.4 1014.9 L 823.9 1009.9 L 830.4 1005.0 L 837.0 1000.2 L 843.6 995.4 L 850.3 990.7 L 857.0 986.1 L 863.8 981.5 L 870.6 977.1 L 877.4 972.7 L 884.3 968.3 L 891.3 964.1 L 898.3 959.9 L 905.3 955.8 L 912.4 951.8 L 919.5 947.8 L 926.6 944.0 L 933.8 940.2 L 941.1 936.5 L 948.4 932.8 L 955.7 929.3 L 963.0 925.8 L 970.4 922.4 L 977.9 919.1 L 985.3 915.8 L 992.8 912.6 L 1000.3 909.5 L 1007.9 906.5 L 1015.5 903.5 L 1023.1 900.6 L 1030.8 897.7 L 1038.5 894.9 L 1046.2 892.2 L 1053.9 889.5 L 1061.7 886.9 L 1069.5 884.4 L 1077.3 881.9 L 1085.1 879.4 L 1093.0 877.0 L 1100.9 874.7 L 1108.8 872.4 L 1116.7 870.2 L 1124.7 868.0 L 1132.6 865.8 L 1140.6 863.7 L 1148.6 861.6 L 1156.6 859.6 L 1164.6 857.6 L 1172.7 855.7 L 1180.7 853.7 L 1188.8 851.9 L 1196.8 850.0 L 1204.9 848.2 L 1213.0 846.4 L 1221.1 844.7 L 1229.2 842.9 L 1237.3 841.2 L 1245.5 839.6 L 1253.6 837.9 L 1261.7 836.3 L 1269.8 834.7 L 1278.0 833.1 L 1286.1 831.5 L 1294.2 829.9 L 1302.4 828.4 L 1310.5 826.8 L 1318.6 825.3 L 1326.8 823.8 L 1334.9 822.3 L 1343.0 820.8 L 1351.1 819.3 L 1359.2 817.8 L 1367.3 816.4 L 1375.4 814.9 L 1383.5 813.4 L 1391.5 811.9 L 1399.6 810.4 L 1407.6 809.0 L 1415.7 807.5 L 1423.7 806.0 L 1431.7 804.6 L 1439.8 803.2 L 1447.8 801.8 L 1455.8 800.4 L 1463.8 799.0 L 1471.9 797.7 L 1479.9 796.4 L 1487.9 795.1 L 1495.9 793.9 L 1504.0 792.7 L 1512.0 791.5 L 1520.0 790.4 L 1528.1 789.3 L 1536.1 788.3 L 1544.2 787.3 L 1552.3 786.4 L 1560.3 785.6 L 1568.4 784.8 L 1576.5 784.0 L 1584.7 783.3 L 1592.8 782.7 L 1600.9 782.2 L 1609.1 781.7 L 1617.3 781.3 L 1625.5 781.0 L 1633.7 780.8 L 1642.0 780.6 L 1650.2 780.5 L 1658.5 780.6 L 1666.8 780.7 L 1675.1 780.9 L 1683.5 781.2 L 1691.9 781.6 L 1700.3 782.1" stroke="#000" stroke-width="2.8" fill="none" stroke-linecap="round" stroke-linejoin="round"/><path d="M 542.0 487.0 C 542.9 492.8 545.7 510.3 547.5 522.0 C 549.3 533.7 549.9 535.8 553.0 557.0 C 556.1 578.2 563.8 633.7 566.0 649.0" stroke="#000" stroke-width="2.3" fill="none" stroke-linecap="round" stroke-linejoin="round"/><path d="M 567.3 656.8 L 568.9 664.4 L 570.5 672.0 L 572.2 679.6 L 573.8 687.1 L 575.5 694.7 L 577.1 702.2 L 578.8 709.7 L 580.5 717.2 L 582.2 724.6 L 583.9 732.1 L 585.6 739.5 L 587.3 746.9 L 589.1 754.4 L 590.8 761.8 L 592.6 769.1 L 594.4 776.5 L 596.2 783.9 L 598.0 791.2 L 599.9 798.6 L 601.7 805.9 L 603.6 813.2 L 605.5 820.5 L 607.4 827.8 L 609.3 835.1 L 611.3 842.4 L 613.3 849.6 L 615.3 856.9 L 617.3 864.2 L 619.3 871.4 L 621.4 878.7 L 623.4 885.9 L 625.5 893.1 L 627.7 900.4 L 629.8 907.6 L 632.0 914.8 L 634.2 922.0 L 636.4 929.2 L 638.7 936.5 L 641.0 943.7 L 643.3 950.9 L 645.6 958.1 L 648.0 965.3 L 650.4 972.5 L 652.8 979.7 L 655.3 986.9 L 657.7 994.1 L 660.3 1001.3 L 662.8 1008.5 L 665.4 1015.8 L 668.0 1023.0 L 670.7 1030.2 L 673.3 1037.4 L 676.1 1044.6 L 678.8 1051.8 L 681.6 1059.0 L 684.4 1066.1 L 687.3 1073.3 L 690.2 1080.5 L 693.1 1087.6 L 696.1 1094.7 L 699.1 1101.9 L 702.1 1109.0 L 705.2 1116.1 L 708.4 1123.1 L 711.5 1130.2 L 714.8 1137.2 L 718.0 1144.2 L 721.3 1151.2 L 724.7 1158.2 L 728.1 1165.1 L 731.5 1172.0 L 735.0 1178.9 L 738.5 1185.7 L 742.1 1192.6 L 745.7 1199.4 L 749.3 1206.1 L 753.1 1212.9 L 756.8 1219.6 L 760.6 1226.2 L 764.5 1232.9 L 768.4 1239.4 L 772.4 1246.0 L 776.4 1252.5 L 780.4 1259.0 L 784.6 1265.4 L 788.7 1271.8 L 793.0 1278.1 L 797.2 1284.4 L 801.6 1290.7 L 806.0 1296.9 L 810.4 1303.0 L 814.9 1309.1 L 819.5 1315.2 L 824.1 1321.2 L 828.8 1327.1 L 833.5 1333.0 L 838.3 1338.8 L 843.1 1344.6 L 848.0 1350.3 L 853.0 1356.0 L 858.1 1361.6 L 863.2 1367.1 L 868.3 1372.6 L 873.5 1378.0 L 878.8 1383.3 L 884.2 1388.6 L 889.6 1393.8 L 895.1 1398.9 L 900.6 1404.0 L 906.2 1409.0 L 911.9 1413.9 L 917.6 1418.8 L 923.4 1423.6 L 929.3 1428.3 L 935.2 1433.0 L 941.2 1437.6 L 947.2 1442.1 L 953.3 1446.6 L 959.4 1451.0 L 965.6 1455.3 L 971.8 1459.6 L 978.1 1463.8 L 984.5 1467.9 L 990.9 1472.0 L 997.3 1476.0 L 1003.8 1480.0 L 1010.3 1483.8 L 1016.9 1487.7 L 1023.5 1491.4 L 1030.1 1495.2 L 1036.8 1498.8 L 1043.6 1502.4 L 1050.3 1505.9 L 1057.2 1509.4 L 1064.0 1512.8 L 1070.9 1516.1 L 1077.8 1519.4 L 1084.8 1522.7 L 1091.7 1525.8 L 1098.7 1528.9 L 1105.8 1532.0 L 1112.9 1535.0 L 1120.0 1538.0 L 1127.1 1540.8 L 1134.2 1543.7 L 1141.4 1546.5 L 1148.6 1549.2 L 1155.8 1551.9 L 1163.1 1554.5 L 1170.3 1557.1 L 1177.6 1559.6 L 1184.9 1562.0 L 1192.2 1564.4 L 1199.5 1566.8 L 1206.9 1569.1 L 1214.2 1571.4 L 1221.6 1573.6 L 1229.0 1575.7 L 1236.3 1577.8 L 1243.7 1579.9 L 1251.1 1581.9 L 1258.5 1583.9 L 1266.0 1585.8 L 1273.4 1587.6 L 1280.8 1589.4 L 1288.2 1591.2 L 1295.6 1592.9 L 1303.1 1594.6 L 1310.5 1596.3 L 1317.9 1597.9 L 1325.4 1599.4 L 1332.8 1600.9 L 1340.3 1602.4 L 1347.7 1603.8 L 1355.2 1605.2 L 1362.7 1606.6 L 1370.1 1607.9 L 1377.6 1609.2 L 1385.1 1610.5 L 1392.6 1611.7 L 1400.0 1612.9 L 1407.5 1614.1 L 1415.0 1615.3 L 1422.5 1616.4 L 1430.0 1617.5 L 1437.5 1618.5 L 1445.0 1619.6 L 1452.5 1620.6 L 1460.1 1621.6 L 1467.6 1622.6 L 1475.1 1623.5 L 1482.6 1624.5 L 1490.2 1625.4 L 1497.7 1626.3 L 1505.2 1627.2 L 1512.8 1628.0 L 1520.3 1628.9 L 1527.9 1629.7 L 1535.4 1630.5 L 1543.0 1631.4 L 1550.6 1632.2 L 1558.1 1633.0 L 1565.7 1633.8 L 1573.3 1634.5 L 1580.9 1635.3 L 1588.4 1636.1 L 1596.0 1636.8 L 1603.6 1637.6 L 1611.2 1638.4 L 1618.8 1639.1 L 1626.4 1639.9 L 1634.0 1640.7 L 1641.7 1641.4 L 1649.3 1642.2 L 1656.9 1643.0 L 1664.5 1643.7 L 1672.2 1644.5 L 1679.8 1645.3 L 1687.4 1646.1" stroke="#000" stroke-width="2.8" fill="none" stroke-linecap="round" stroke-linejoin="round"/><ellipse cx="390.5" cy="1677" rx="3.8" ry="4.2" fill="#000"/><ellipse cx="418.4" cy="1608" rx="3.8" ry="4.2" fill="#000"/><ellipse cx="433.5" cy="1552" rx="3.8" ry="4.2" fill="#000"/><ellipse cx="451" cy="1480.4" rx="3.8" ry="4.2" fill="#000"/><ellipse cx="477.2" cy="1385.2" rx="3.8" ry="4.2" fill="#000"/><ellipse cx="507.6" cy="1263" rx="3.8" ry="4.2" fill="#000"/><ellipse cx="561.5" cy="1079" rx="3.8" ry="4.2" fill="#000"/><ellipse cx="613.7" cy="945.6" rx="3.8" ry="4.2" fill="#000"/><ellipse cx="681.4" cy="832" rx="3.8" ry="4.2" fill="#000"/><ellipse cx="717" cy="781.8" rx="3.8" ry="4.2" fill="#000"/><ellipse cx="781" cy="718" rx="3.8" ry="4.2" fill="#000"/><text x="373" y="1684.4" font-family="'Liberation Serif', serif" font-size="31" stroke="#000" stroke-width="1.1" textLength="7" lengthAdjust="spacingAndGlyphs">1</text><text x="397" y="1615.8" font-family="'Liberation Serif', serif" font-size="31" stroke="#000" stroke-width="1.1" textLength="13" lengthAdjust="spacingAndGlyphs">2</text><text x="414.6" y="1563" font-family="'Liberation Serif', serif" font-size="31" stroke="#000" stroke-width="1.1" textLength="10.899999999999977" lengthAdjust="spacingAndGlyphs">3</text><text x="424.3" y="1489" font-family="'Liberation Serif', serif" font-size="31" stroke="#000" stroke-width="1.1" textLength="17.0" lengthAdjust="spacingAndGlyphs">4</text><text x="455.9" y="1393" font-family="'Liberation Serif', serif" font-size="31" stroke="#000" stroke-width="1.1" textLength="10.900000000000034" lengthAdjust="spacingAndGlyphs">5</text><text x="482.6" y="1271" font-family="'Liberation Serif', serif" font-size="31" stroke="#000" stroke-width="1.1" textLength="14.399999999999977" lengthAdjust="spacingAndGlyphs">6</text><text x="536.5" y="1087.7" font-family="'Liberation Serif', serif" font-size="31" stroke="#000" stroke-width="1.1" textLength="15.299999999999955" lengthAdjust="spacingAndGlyphs">7</text><text x="589" y="951.7" font-family="'Liberation Serif', serif" font-size="31" stroke="#000" stroke-width="1.1" textLength="16" lengthAdjust="spacingAndGlyphs">8</text><text x="655.9" y="837.7" font-family="'Liberation Serif', serif" font-size="31" stroke="#000" stroke-width="1.1" textLength="14.5" lengthAdjust="spacingAndGlyphs">9</text><text x="682.6" y="787.9" font-family="'Liberation Serif', serif" font-size="31" stroke="#000" stroke-width="1.1" textLength="23.0" lengthAdjust="spacingAndGlyphs">10</text><text x="748" y="722.3" font-family="'Liberation Serif', serif" font-size="31" stroke="#000" stroke-width="1.1" textLength="19.600000000000023" lengthAdjust="spacingAndGlyphs">11</text><text x="868.4" y="700.4" font-family="'Liberation Serif', serif" font-size="42" font-weight="bold" textLength="11" lengthAdjust="spacingAndGlyphs">I</text><text x="869.6" y="1017.9" font-family="'Liberation Serif', serif" font-size="42" stroke="#000" stroke-width="1.2" textLength="24.3" lengthAdjust="spacingAndGlyphs">II</text><text x="863.5" y="1460.4" font-family="'Liberation Serif', serif" font-size="46" font-weight="bold" textLength="39" lengthAdjust="spacingAndGlyphs">III</text><path d="M 1669 477.3 L 1734 477.3" stroke="#000" stroke-width="3"/><path d="M 1731 473.5 L 1741.5 477.3 L 1731 481 Z" fill="#000"/><path d="M 1659.5 718.9 L 1728 718.9" stroke="#000" stroke-width="3"/><path d="M 1724 712.5 L 1737.5 718.9 L 1724 725.3 Z" fill="#000"/><text class="cap" x="347" y="1826" font-family="'Liberation Serif', serif" font-size="30" textLength="1280" lengthAdjust="spacingAndGlyphs">F<tspan font-size='22'>IG</tspan>. 1.—I. (<tspan font-style='italic'>x</tspan><tspan font-size='20' baseline-shift='-5'>0</tspan>, 1 − <tspan font-style='italic'>β</tspan><tspan font-size='20' baseline-shift='-5'>1</tspan>)-<tspan font-style='italic'>curve</tspan>  (<tspan font-style='italic'>see</tspan>  <tspan font-style='italic'>equations</tspan>  (18)  <tspan font-style='italic'>and</tspan>  (29)).   <tspan font-style='italic'>The</tspan>  <tspan font-style='italic'>points</tspan>  <tspan font-style='italic'>marked</tspan></text><text class="cap" x="570" y="1865" font-family="'Liberation Serif', serif" font-size="30" textLength="1058" lengthAdjust="spacingAndGlyphs">(1 . . . 10) <tspan font-style='italic'>on this curve and the x-axis are the end-points of the curves of</tspan></text><text class="cap" x="570" y="1902" font-family="'Liberation Serif', serif" font-size="30" textLength="1057" lengthAdjust="spacingAndGlyphs"><tspan font-style='italic'>constant mass in the domain of degeneracy for values of M in Table II.</tspan></text><text class="cap" x="477" y="1953.5" font-family="'Liberation Serif', serif" font-size="30" textLength="608" lengthAdjust="spacingAndGlyphs">II. (<tspan font-style='italic'>x</tspan><tspan font-size='20' baseline-shift='-5'>0</tspan>, 1 − <tspan font-style='italic'>β</tspan>†)-<tspan font-style='italic'>curve</tspan> (<tspan font-style='italic'>see equation</tspan> (44)).</text><text class="cap" x="460" y="2001" font-family="'Liberation Serif', serif" font-size="30" textLength="648" lengthAdjust="spacingAndGlyphs">III. (<tspan font-style='italic'>x</tspan><tspan font-size='20' baseline-shift='-5'>0</tspan>, 1 − <tspan font-style='italic'>β</tspan><tspan font-size='20' baseline-shift='-5'>c</tspan>)-<tspan font-style='italic'>curve</tspan> (<tspan font-style='italic'>see equation</tspan> (150)).</text><text class="cap" x="390" y="2038.5" font-family="'Liberation Serif', serif" font-size="30" textLength="1239" lengthAdjust="spacingAndGlyphs"><tspan font-style='italic'>The intersection of curves I and III defines</tspan> (1 − <tspan font-style='italic'>β</tspan><tspan font-size='20' baseline-shift='-5'>q</tspan>).   <tspan font-style='italic'>For</tspan> (1 − <tspan font-style='italic'>β</tspan><tspan font-size='20' baseline-shift='-5'>1</tspan>) &gt; (1 − <tspan font-style='italic'>β</tspan><tspan font-size='20' baseline-shift='-5'>q</tspan>) <tspan font-style='italic'>we have</tspan></text><text class="cap" x="347" y="2075" font-family="'Liberation Serif', serif" font-size="30" textLength="1029" lengthAdjust="spacingAndGlyphs"><tspan font-style='italic'>centrally condensed configurations on the generalized standard model.</tspan></text><text class="eq" x="844" y="2477" font-family="'Liberation Serif', serif" font-size="44" font-style="italic" textLength="24" lengthAdjust="spacingAndGlyphs">β</text><text class="eq" x="870" y="2485" font-family="'Liberation Serif', serif" font-size="27" textLength="9.5" lengthAdjust="spacingAndGlyphs">1</text><rect x="894" y="2462.5" width="23" height="2.6" fill="#000"/><rect x="894" y="2469.5" width="23" height="2.6" fill="#000"/><text class="eq" x="929" y="2476.5" font-family="'Liberation Serif', serif" font-size="31" font-weight="bold" textLength="11" lengthAdjust="spacingAndGlyphs">1</text><rect x="958" y="2467" width="21" height="2.6" fill="#000"/><rect x="992" y="2464.6" width="134" height="2.2" fill="#000"/><text class="eq" x="999" y="2449" font-family="'Liberation Serif', serif" font-size="43" textLength="119" lengthAdjust="spacingAndGlyphs">(<tspan font-style="italic">κη</tspan>)<tspan font-size="27" dy="7">1</tspan><tspan dy="-7" font-style="italic">L</tspan></text><text class="eq" x="990" y="2507" font-family="'Liberation Serif', serif" font-size="43" textLength="140" lengthAdjust="spacingAndGlyphs">4<tspan font-style="italic">πcGM</tspan></text><circle cx="1136" cy="2469" r="2.6" fill="#000"/><text class="eq" x="1633" y="2478" font-family="'Liberation Serif', serif" font-size="43" textLength="72" lengthAdjust="spacingAndGlyphs">(19)</text><text x="273.5" y="2627" font-family="'Liberation Serif', serif" font-size="37" textLength="85" lengthAdjust="spacingAndGlyphs">[230]</text></svg>
</body></html>
